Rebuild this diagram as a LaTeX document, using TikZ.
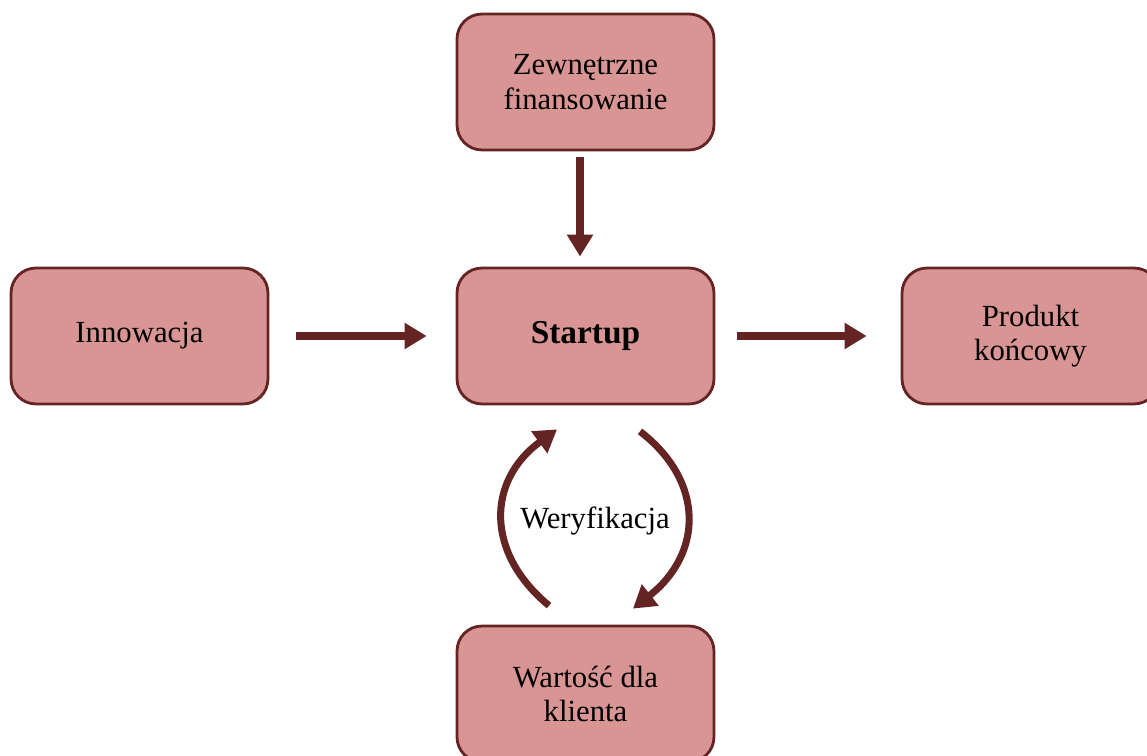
\documentclass[tikz,border=0pt]{standalone}
\usepackage{fontspec}
\setmainfont{Liberation Serif}
\usetikzlibrary{arrows.meta}
\definecolor{boxfill}{HTML}{D99594}
\definecolor{boxline}{HTML}{632423}
\tikzset{
  box/.style={draw=boxline,line width=1.6pt,fill=boxfill,rounded corners=0.5cm,
    minimum width=5.14cm,minimum height=2.72cm,align=center,
    font=\fontsize{17.5}{19.5}\selectfont},
  flow/.style={draw=boxline,line width=4.5pt,-{Triangle[length=0.44cm,width=0.5cm]}},
  loopar/.style={draw=boxline,line width=4pt,-{Triangle[length=0.44cm,width=0.52cm]}}
}
\begin{document}
\begin{tikzpicture}[x=0.02cm,y=-0.02cm]
\useasboundingbox (0,0) rectangle (1147,756);
% Boxes
\node[box] (fin) at (585.5,82) {Zewnętrzne\\finansowanie};
\node[box] (innow) at (139.5,336) {Innowacja};
\node[box,font=\fontsize{19}{21}\selectfont\bfseries] (startup) at (585.5,336) {Startup};
\node[box] (produkt) at (1030.5,336) {Produkt\\końcowy};
\node[box] (wartosc) at (585.5,694) {Wartość dla\\klienta};
% Straight arrows
\draw[flow,shorten <=0.12cm,shorten >=0.2cm] ([xshift=-0.11cm]fin.south) -- ([xshift=-0.11cm]startup.north);
\draw[flow,shorten <=0.54cm,shorten >=0.58cm] (innow.east) -- (startup.west);
\draw[flow,shorten <=0.44cm,shorten >=0.68cm] (startup.east) -- (produkt.west);
% Verification loop
\draw[loopar] ([shift={(-36.5,-19)}]wartosc.north) .. controls +(-63,-52) and +(-71,52) .. ([shift={(-28.5,24)}]startup.south);
\draw[loopar] ([shift={(54.5,26)}]startup.south) .. controls +(65,50) and +(70,-55) .. ([shift={(47.5,-16)}]wartosc.north);
\node[font=\fontsize{17.5}{19.5}\selectfont] (weryf) at (595,521) {Weryfikacja};
\end{tikzpicture}
\end{document}
